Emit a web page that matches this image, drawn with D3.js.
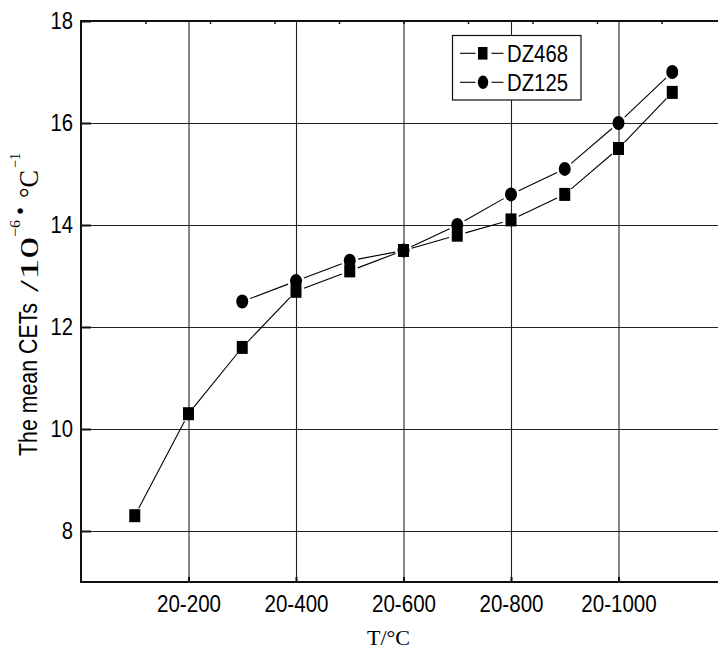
<!DOCTYPE html>
<html>
<head>
<meta charset="utf-8">
<script src="https://cdn.jsdelivr.net/npm/d3@7"></script>
<style>
  body { margin: 0; background: #fff; }
  svg { display: block; }
</style>
</head>
<body>
<svg id="chart" width="718" height="651"></svg>
<script>
// Temperature ranges (position along the axis) and mean CET values, 10^-6 /°C
const rangeIndex = [1, 2, 3, 4, 5, 6, 7, 8, 9, 10, 11];
const rangeNames = ["20-100", "20-200", "20-300", "20-400", "20-500", "20-600",
                    "20-700", "20-800", "20-900", "20-1000", "20-1100"];
const dz468 = [8.3, 10.3, 11.6, 12.7, 13.1, 13.5, 13.8, 14.1, 14.6, 15.5, 16.6];
const dz125 = [null, null, 12.5, 12.9, 13.3, 13.5, 14.0, 14.6, 15.1, 16.0, 17.0];

const xTickPos = [2, 4, 6, 8, 10];
const xTickLabels = ["20-200", "20-400", "20-600", "20-800", "20-1000"];
const yTicks = [8, 10, 12, 14, 16, 18];
const seriesNames = ["DZ468", "DZ125"];

const SANS = "'Liberation Sans', Arial, Helvetica, sans-serif";
const SERIF = "'Liberation Serif', 'Times New Roman', serif";

const svg = d3.select("#chart");
const plotLeft = 81, plotRight = 726, plotTop = 21, plotBottom = 582;

const x = d3.scaleLinear().domain([0, 12]).range([plotLeft, plotRight]);
const y = d3.scaleLinear().domain([7, 18]).range([plotBottom, plotTop]);

// grid lines
svg.append("g")
  .attr("transform", `translate(0,${plotBottom})`)
  .call(d3.axisBottom(x).tickValues(xTickPos).tickSize(-(plotBottom - plotTop)).tickFormat(""))
  .call(g => g.select(".domain").remove())
  .call(g => g.selectAll("line").attr("stroke", "#222").attr("stroke-width", 1.1));
svg.append("g")
  .attr("transform", `translate(${plotLeft},0)`)
  .call(d3.axisLeft(y).tickValues(yTicks.slice(0, -1)).tickSize(-(plotRight - plotLeft)).tickFormat(""))
  .call(g => g.select(".domain").remove())
  .call(g => g.selectAll("line").attr("stroke", "#222").attr("stroke-width", 1.1));

// frame
svg.append("rect")
  .attr("x", plotLeft).attr("y", plotTop)
  .attr("width", plotRight - plotLeft).attr("height", plotBottom - plotTop)
  .attr("fill", "none").attr("stroke", "#111").attr("stroke-width", 2);

// top minor ticks
svg.append("g")
  .attr("transform", `translate(0,${plotTop})`)
  .call(d3.axisTop(x).tickValues(d3.range(1.2, 12, 1.2)).tickSize(-3).tickFormat(""))
  .call(g => g.select(".domain").remove())
  .call(g => g.selectAll("line").attr("stroke", "#111").attr("stroke-width", 1.5));

// left axis
svg.append("g")
  .attr("transform", `translate(${plotLeft},0)`)
  .call(d3.axisLeft(y).tickValues(yTicks).tickSize(-10).tickPadding(9))
  .call(g => g.select(".domain").remove())
  .call(g => g.selectAll("line").attr("stroke", "#111").attr("stroke-width", 2))
  .call(g => g.selectAll("text")
    .attr("font-family", SANS).attr("font-size", 23).attr("fill", "#000")
    .attr("dy", "0.34em")
    .attr("transform", "scale(0.88,1)"));

// bottom axis
svg.append("g")
  .attr("transform", `translate(0,${plotBottom})`)
  .call(d3.axisBottom(x).tickValues(xTickPos).tickSize(-5).tickPadding(13)
    .tickFormat((d, i) => xTickLabels[i]))
  .call(g => g.select(".domain").remove())
  .call(g => g.selectAll("line").attr("stroke", "#111").attr("stroke-width", 2))
  .call(g => g.selectAll("text")
    .attr("font-family", SANS).attr("font-size", 24.5).attr("fill", "#000")
    .attr("transform", "scale(0.84,1)"));

// axis titles
svg.append("text")
  .attr("x", 367).attr("y", 645)
  .attr("font-family", SERIF).attr("font-size", 22).attr("fill", "#000")
  .text("T/°C");

const yTitle = svg.append("g").attr("transform", "rotate(-90)")
  .attr("fill", "#000");
yTitle.append("text")
  .attr("x", -456).attr("y", 37)
  .attr("font-family", SANS).attr("font-size", 26)
  .attr("textLength", 153).attr("lengthAdjust", "spacingAndGlyphs")
  .text("The mean CETs");
yTitle.append("text")
  .attr("x", -292).attr("y", 38)
  .attr("font-family", SERIF).attr("font-size", 26)
  .attr("textLength", 55).attr("lengthAdjust", "spacingAndGlyphs")
  .text("/10");
yTitle.append("text")
  .attr("x", -237).attr("y", 20)
  .attr("font-family", SERIF).attr("font-size", 15)
  .attr("textLength", 17).attr("lengthAdjust", "spacingAndGlyphs")
  .text("−6");
yTitle.append("text")
  .attr("x", -211).attr("y", 27).attr("text-anchor", "middle")
  .attr("font-family", SANS).attr("font-size", 20)
  .text("•");
yTitle.append("text")
  .attr("x", -198).attr("y", 38)
  .attr("font-family", SERIF).attr("font-size", 27)
  .attr("textLength", 28).attr("lengthAdjust", "spacingAndGlyphs")
  .text("°C");
yTitle.append("text")
  .attr("x", -168).attr("y", 20)
  .attr("font-family", SERIF).attr("font-size", 15)
  .attr("textLength", 15).attr("lengthAdjust", "spacingAndGlyphs")
  .text("−1");

// connecting lines that stop short of each marker
function gappedSegments(values, gap) {
  const pts = rangeIndex.map((r, i) => values[i] == null ? null : [x(r), y(values[i])]);
  const segs = [];
  for (let i = 1; i < pts.length; i++) {
    const a = pts[i - 1], b = pts[i];
    if (!a || !b) continue;
    const dx = b[0] - a[0], dy = b[1] - a[1];
    const len = Math.hypot(dx, dy);
    if (len <= 2 * gap) continue;
    const ux = dx / len, uy = dy / len;
    segs.push([a[0] + ux * gap, a[1] + uy * gap, b[0] - ux * gap, b[1] - uy * gap]);
  }
  return segs;
}

const plot = svg.append("g");
[dz468, dz125].forEach(vals => {
  plot.append("g").selectAll("line")
    .data(gappedSegments(vals, 8.5))
    .join("line")
    .attr("x1", d => d[0]).attr("y1", d => d[1])
    .attr("x2", d => d[2]).attr("y2", d => d[3])
    .attr("stroke", "#000").attr("stroke-width", 1.1);
});

const pts468 = rangeIndex.map((r, i) => ({ r, v: dz468[i], name: rangeNames[i] }));
const pts125 = rangeIndex.map((r, i) => ({ r, v: dz125[i], name: rangeNames[i] }))
  .filter(d => d.v != null);

plot.append("g").selectAll("rect")
  .data(pts468)
  .join("rect")
  .attr("x", d => x(d.r) - 5.5).attr("y", d => y(d.v) - 6.5)
  .attr("width", 11).attr("height", 13)
  .attr("fill", "#000");

plot.append("g").selectAll("ellipse")
  .data(pts125)
  .join("ellipse")
  .attr("cx", d => x(d.r)).attr("cy", d => y(d.v))
  .attr("rx", 6).attr("ry", 7)
  .attr("fill", "#000");

// legend
const legend = svg.append("g");
legend.append("rect")
  .attr("x", 452.5).attr("y", 35.5).attr("width", 128.5).attr("height", 64.5)
  .attr("fill", "#fff").attr("stroke", "#111").attr("stroke-width", 1.2);
const rows = [53.3, 82.3];
rows.forEach((ry, i) => {
  legend.append("line").attr("x1", 460).attr("x2", 475.5).attr("y1", ry).attr("y2", ry)
    .attr("stroke", "#000").attr("stroke-width", 1.1);
  legend.append("line").attr("x1", 491.5).attr("x2", 503.5).attr("y1", ry).attr("y2", ry)
    .attr("stroke", "#000").attr("stroke-width", 1.1);
  if (i === 0) {
    legend.append("rect").attr("x", 478).attr("y", ry - 6.3).attr("width", 9.5).attr("height", 12.6)
      .attr("fill", "#000");
  } else {
    legend.append("ellipse").attr("cx", 483).attr("cy", ry).attr("rx", 5.2).attr("ry", 6.8)
      .attr("fill", "#000");
  }
  legend.append("text")
    .attr("x", 507).attr("y", ry + 8.6)
    .attr("font-family", SANS).attr("font-size", 23.5).attr("fill", "#000")
    .attr("textLength", 61).attr("lengthAdjust", "spacingAndGlyphs")
    .text(seriesNames[i]);
});
</script>
</body>
</html>
